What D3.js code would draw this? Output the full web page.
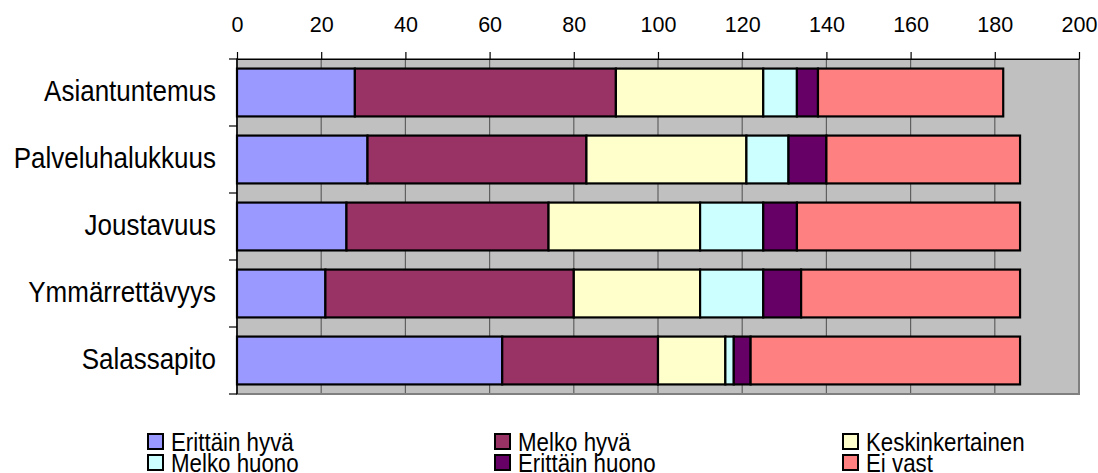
<!DOCTYPE html>
<html>
<head>
<meta charset="utf-8">
<script src="https://cdn.jsdelivr.net/npm/d3@7"></script>
<style>
  html, body { margin: 0; padding: 0; background: #fff; }
  svg { display: block; font-family: "Liberation Sans", Arial, sans-serif; }
</style>
</head>
<body>
<svg id="chart" width="1098" height="473"></svg>
<script>
// Categories (top to bottom)
const categories = ["Asiantuntemus", "Palveluhalukkuus", "Joustavuus", "Ymmärrettävyys", "Salassapito"];

// Response classes, in stacking order
const seriesNames = ["Erittäin hyvä", "Melko hyvä", "Keskinkertainen", "Melko huono", "Erittäin huono", "Ei vast"];
const seriesColors = ["#9999FF", "#993366", "#FFFFCC", "#CCFFFF", "#660066", "#FF8080"];

// Counts per category, one array per response class
const erittainHyva   = [28, 31, 26, 21, 63];
const melkoHyva      = [62, 52, 48, 59, 37];
const keskinkertainen = [35, 38, 36, 30, 16];
const melkoHuono     = [8, 10, 15, 15, 2];
const erittainHuono  = [5, 9, 8, 9, 4];
const eiVast         = [44, 46, 53, 52, 64];

const xTicks = [0, 20, 40, 60, 80, 100, 120, 140, 160, 180, 200];

const seriesValues = [erittainHyva, melkoHyva, keskinkertainen, melkoHuono, erittainHuono, eiVast];
const rows = categories.map((c, i) => {
  const r = { category: c };
  seriesNames.forEach((s, j) => { r[s] = seriesValues[j][i]; });
  return r;
});

const svg = d3.select("#chart");
const plot = { left: 237, right: 1079, top: 59, bottom: 394 };

const x = d3.scaleLinear().domain([0, 200]).range([plot.left, plot.right]);
const y = d3.scaleBand().domain(categories).range([plot.top, plot.bottom])
  .paddingInner(0.4 / 1.4).paddingOuter(0.2 / 1.4);

// Plot area background
svg.append("rect")
  .attr("x", plot.left).attr("y", plot.top)
  .attr("width", plot.right - plot.left).attr("height", plot.bottom - plot.top)
  .attr("fill", "#C0C0C0");

// Vertical gridlines
svg.append("g").selectAll("line").data(xTicks.slice(1)).join("line")
  .attr("x1", d => x(d)).attr("x2", d => x(d))
  .attr("y1", plot.top).attr("y2", plot.bottom)
  .attr("stroke", "#606060").attr("stroke-width", 1.2);

// Plot area frame
svg.append("rect")
  .attr("x", plot.left).attr("y", plot.top)
  .attr("width", plot.right - plot.left).attr("height", plot.bottom - plot.top)
  .attr("fill", "none").attr("stroke", "#808080").attr("stroke-width", 2);

// Stacked bars
const stack = d3.stack().keys(seriesNames);
const stacked = stack(rows);
const color = d3.scaleOrdinal().domain(seriesNames).range(seriesColors);

svg.append("g").selectAll("g").data(stacked).join("g")
  .attr("fill", d => color(d.key))
  .selectAll("rect").data(d => d).join("rect")
  .attr("x", d => x(d[0]))
  .attr("y", d => y(d.data.category))
  .attr("width", d => x(d[1]) - x(d[0]))
  .attr("height", y.bandwidth())
  .attr("stroke", "#000").attr("stroke-width", 2.2);

// Top value axis
const xAxis = svg.append("g")
  .attr("transform", `translate(0,${plot.top})`)
  .call(d3.axisTop(x).tickValues(xTicks).tickSize(7).tickSizeOuter(0).tickPadding(20));
xAxis.select(".domain").attr("stroke", "#000").attr("stroke-width", 1);
xAxis.selectAll(".tick line").attr("stroke", "#000").attr("stroke-width", 1.2);
xAxis.selectAll(".tick text")
  .attr("font-size", 21.5).attr("fill", "#000")
  .attr("font-family", "'Liberation Sans', Arial, sans-serif");

// Left category axis line and boundary ticks
svg.append("line")
  .attr("x1", plot.left).attr("x2", plot.left)
  .attr("y1", plot.top).attr("y2", plot.bottom)
  .attr("stroke", "#000").attr("stroke-width", 1.5);
const step = y.step();
const boundaries = d3.range(categories.length + 1).map(i => plot.top + i * step);
svg.append("g").selectAll("line").data(boundaries).join("line")
  .attr("x1", plot.left - 8).attr("x2", plot.left)
  .attr("y1", d => d).attr("y2", d => d)
  .attr("stroke", "#000").attr("stroke-width", 1.2);

// Category labels
svg.append("g").selectAll("text").data(categories).join("text")
  .attr("transform", d => `translate(${plot.left - 21},${y(d) + y.bandwidth() / 2 + 8.5}) scale(1,1.11)`)
  .attr("text-anchor", "end")
  .attr("font-size", 26)
  .attr("fill", "#000")
  .text(d => d);

// Legend: three columns, two rows
const legend = svg.append("g");
const legendCols = [147, 494, 842];
const legendRows = [433, 454];
const items = legend.selectAll("g").data(seriesNames).join("g")
  .attr("transform", (d, i) => `translate(${legendCols[i % 3]},${legendRows[Math.floor(i / 3)]})`);
items.append("rect")
  .attr("x", 1).attr("y", 1).attr("width", 15).attr("height", 15)
  .attr("fill", d => color(d)).attr("stroke", "#000").attr("stroke-width", 2);
items.append("text")
  .attr("transform", "translate(24,17.5) scale(1,1.14)")
  .attr("font-size", 22.3)
  .attr("fill", "#000")
  .text(d => d);
</script>
</body>
</html>
